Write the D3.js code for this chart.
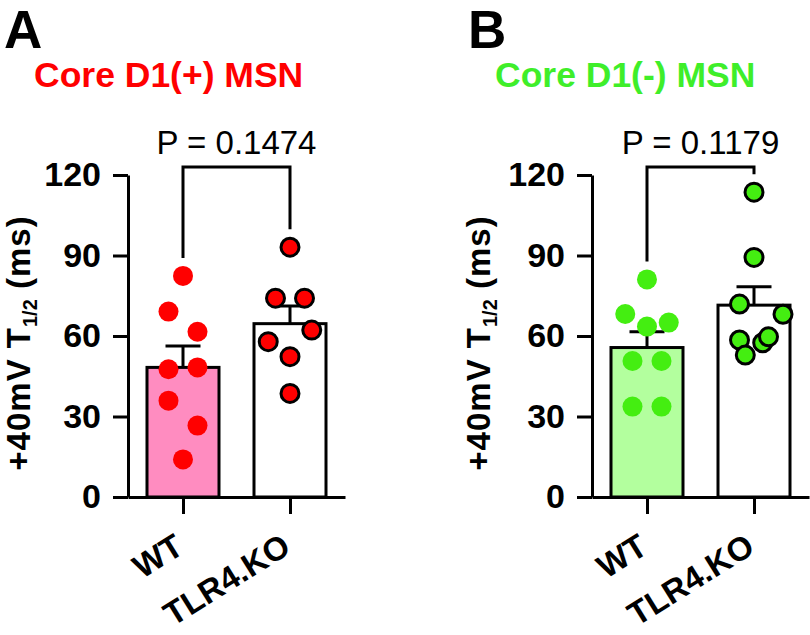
<!DOCTYPE html>
<html>
<head>
<meta charset="utf-8">
<script src="https://cdn.jsdelivr.net/npm/d3@7"></script>
<style>
  html, body { margin: 0; padding: 0; background: #fff; }
  svg { display: block; }
  text { font-family: "Liberation Sans", Arial, Helvetica, sans-serif; }
</style>
</head>
<body>
<svg id="chart" width="810" height="635"></svg>
<script>
// ---------- data ----------
const categories = ["WT", "TLR4.KO"];
const panelLetters = ["A", "B"];
const panelTitles = ["Core D1(+) MSN", "Core D1(-) MSN"];
const pLabels = ["P = 0.1474", "P = 0.1179"];
const yTicks = [0, 30, 60, 90, 120];
const yLabelMain = "+40mV T";
const yLabelSub = "1/2";
const yLabelEnd = " (ms)";

// Panel A (Core D1(+) MSN)
const meansA = [48.3, 64.6];
const semA = [8.0, 6.6];
const pointsA_WT = [82.4, 69.1, 61.6, 47.6, 48.3, 35.9, 26.6, 14.0];
const jitterA_WT = [0, -1, 1, -1, 1, -1, 1, 0];
const pointsA_KO = [93.1, 74.1, 74.1, 62.2, 57.9, 52.3, 38.6];
const jitterA_KO = [0, -1, 1, 1.5, -1.5, 0, 0];

// Panel B (Core D1(-) MSN)
const meansB = [55.7, 71.5];
const semB = [5.9, 6.9];
const pointsB_WT = [81.1, 68.2, 65.0, 63.5, 50.7, 50.7, 33.7, 33.7];
const jitterB_WT = [0, -1.5, 1.5, 0, -1, 1, -1, 1];
const pointsB_KO = [113.6, 89.3, 71.9, 68.1, 58.5, 52.9, 57.5, 59.7];
const jitterB_KO = [0, 0, -1, 2, -1, -0.6, 0.6, 1];

// ---------- styles ----------
const colorsA = { title: "#ff0000", wtFill: "#ff8cc0", dot: "#ff0000" };
const colorsB = { title: "#3fee2a", wtFill: "#b3ff9e", dot: "#44ee11" };

const svg = d3.select("#chart");
const FONT = '"Liberation Sans", Arial, Helvetica, sans-serif';

const y = d3.scaleLinear().domain([0, 120]).range([497, 175]);

function drawPanel(opts) {
  const { ox, letter, title, colors, means, sem, pts, jit, pLabel, titleDx, labelDx } = opts;
  const g = svg.append("g").attr("transform", `translate(${ox},0)`);

  const x = d3.scalePoint().domain(categories).range([0, 217]).padding(0.514);
  const barW = 72;
  const slot = 14.5;

  // panel letter
  svg.append("text").attr("x", ox - 124).attr("y", 48)
    .attr("font-size", 53).attr("font-weight", "bold").attr("fill", "#000")
    .text(letter);
  // title
  svg.append("text").attr("x", ox + titleDx).attr("y", 87)
    .attr("font-size", 35.5).attr("font-weight", "bold").attr("fill", colors.title)
    .text(title);

  // bars
  g.selectAll("rect.bar").data(categories).join("rect")
    .attr("class", "bar")
    .attr("x", d => x(d) - barW / 2)
    .attr("y", (d, i) => y(means[i]))
    .attr("width", barW)
    .attr("height", (d, i) => y(0) - y(means[i]))
    .attr("fill", (d, i) => i === 0 ? colors.wtFill : "#fff")
    .attr("stroke", "#000").attr("stroke-width", 3);

  // error bars (upward SEM)
  categories.forEach((c, i) => {
    const cx = x(c);
    g.append("line").attr("x1", cx).attr("x2", cx)
      .attr("y1", y(means[i])).attr("y2", y(means[i] + sem[i]))
      .attr("stroke", "#000").attr("stroke-width", 3);
    g.append("line").attr("x1", cx - 17.5).attr("x2", cx + 17.5)
      .attr("y1", y(means[i] + sem[i])).attr("y2", y(means[i] + sem[i]))
      .attr("stroke", "#000").attr("stroke-width", 3);
  });

  // points
  categories.forEach((c, i) => {
    const data = pts[i].map((v, k) => ({ v, j: jit[i][k] }));
    g.selectAll(null).data(data).join("circle")
      .attr("cx", d => x(c) + d.j * slot)
      .attr("cy", d => y(d.v))
      .attr("r", i === 0 ? 10 : 9)
      .attr("fill", colors.dot)
      .attr("stroke", i === 0 ? "none" : "#000")
      .attr("stroke-width", 3);
  });

  // axes
  const yAxis = d3.axisLeft(y).tickValues(yTicks).tickSize(15).tickSizeOuter(0).tickPadding(12);
  const ya = g.append("g").call(yAxis);
  ya.select(".domain").attr("stroke-width", 3);
  ya.selectAll(".tick line").attr("stroke-width", 3);
  ya.selectAll(".tick text").attr("font-family", FONT).attr("font-size", 34)
    .attr("font-weight", "bold").attr("fill", "#000");

  const xAxis = d3.axisBottom(x).tickSize(17).tickSizeOuter(0).tickPadding(0);
  const xa = g.append("g").attr("transform", `translate(0,${y(0)})`).call(xAxis);
  xa.select(".domain").attr("stroke-width", 3);
  xa.selectAll(".tick line").attr("stroke-width", 3);
  xa.selectAll(".tick text").attr("font-family", FONT).attr("font-size", 33)
    .attr("font-weight", "bold").attr("fill", "#000")
    .attr("text-anchor", "end")
    .attr("y", 0).attr("dy", 0)
    .attr("transform", "translate(2,55) rotate(-32)");

  // y label
  const yl = g.append("text")
    .attr("transform", `translate(${labelDx},${(y(0) + y(120)) / 2 + 7}) rotate(-90)`)
    .attr("text-anchor", "middle")
    .attr("font-size", 33).attr("font-weight", "bold").attr("fill", "#000")
    .attr("letter-spacing", 1);
  yl.append("tspan").text(yLabelMain);
  yl.append("tspan").attr("font-size", 20).attr("dy", 7).attr("letter-spacing", 0).text(yLabelSub);
  yl.append("tspan").attr("dy", -7).text(yLabelEnd);

  // significance bracket
  const topY = y(123);
  const legs = categories.map((c, i) => y(d3.max(pts[i])) - 18);
  g.append("path")
    .attr("d", `M${x(categories[0])},${legs[0]}V${topY}H${x(categories[1])}V${legs[1]}`)
    .attr("fill", "none").attr("stroke", "#000").attr("stroke-width", 3);
  g.append("text")
    .attr("x", (x(categories[0]) + x(categories[1])) / 2)
    .attr("y", 154)
    .attr("text-anchor", "middle")
    .attr("font-size", 33).attr("fill", "#000")
    .text(pLabel);
}

drawPanel({ ox: 128, letter: panelLetters[0], title: panelTitles[0], colors: colorsA, titleDx: -94, labelDx: -98,
  means: meansA, sem: semA, pts: [pointsA_WT, pointsA_KO], jit: [jitterA_WT, jitterA_KO], pLabel: pLabels[0] });
drawPanel({ ox: 592, letter: panelLetters[1], title: panelTitles[1], colors: colorsB, titleDx: -97, labelDx: -102,
  means: meansB, sem: semB, pts: [pointsB_WT, pointsB_KO], jit: [jitterB_WT, jitterB_KO], pLabel: pLabels[1] });
</script>
</body>
</html>
